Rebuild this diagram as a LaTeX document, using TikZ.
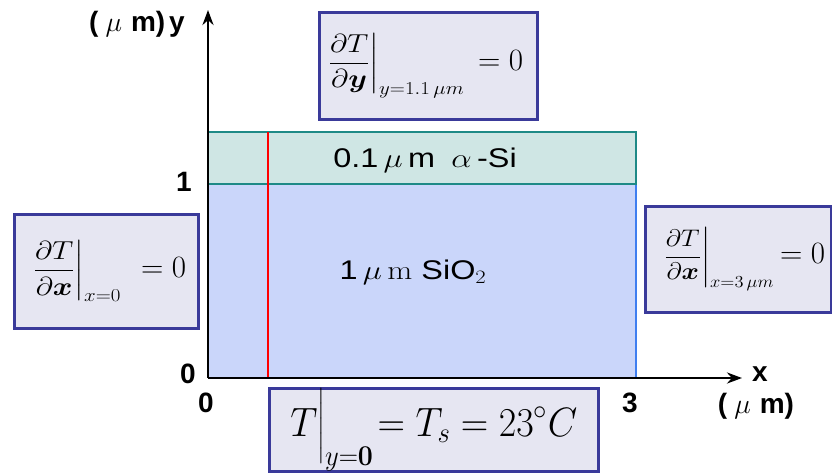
\documentclass[tikz,border=0pt]{standalone}
\usepackage{fix-cm}
\usepackage{amsmath}
\usepackage{graphicx}
\usepackage[no-math]{fontspec}
\setmainfont{Liberation Sans}
\usetikzlibrary{arrows.meta}
\definecolor{boxfill}{HTML}{E6E6F2}
\definecolor{boxdraw}{HTML}{3A3A9A}
\definecolor{sifill}{HTML}{CFE6E4}
\definecolor{sidraw}{HTML}{1E8A86}
\definecolor{oxfill}{HTML}{CAD6FA}
\definecolor{oxdraw}{HTML}{3F7FF0}
\newcommand{\eqzero}{{\fontsize{31}{34}\selectfont$=0$}}
\newcommand{\umlab}{(\hspace{7pt}{\mdseries$\mu$}\hspace{9pt}m)}
\begin{document}
\begin{tikzpicture}[x=1pt,y=-1pt,
  axislab/.style={font=\fontsize{28}{32}\selectfont\bfseries, inner sep=0pt},
  layerlab/.style={font=\fontsize{27}{32}\selectfont, inner sep=0pt},
  bcbox/.style={draw=boxdraw, fill=boxfill, line width=2.5pt, inner sep=0pt, anchor=north west,
    font=\fontsize{26}{30}\selectfont},
  axis/.style={line width=2.6pt, -{Stealth[length=15pt,width=11pt]}}
]
\useasboundingbox (0,0) rectangle (832,472);
% layers
\fill[oxfill] (208,184) rectangle (636,378);
\draw[oxdraw, line width=2pt] (636,184) -- (636,378);
\filldraw[fill=sifill, draw=sidraw, line width=2.5pt] (208,132) rectangle (636,184);
\coordinate (rtop) at (268,132);
\coordinate (rbot) at (268,378);
\draw[red, line width=2.5pt] (rtop) -- (rbot);
% axes
\coordinate (O) at (208,378);
\coordinate (ytip) at (208,10);
\coordinate (xtip) at (742,378);
\draw[axis] (O) -- (ytip);
\draw[axis] (O) -- (xtip);
% axis labels
\node[axislab, anchor=east] (ylab) at (185,24) {\umlab\hspace{4pt}y};
\node[axislab] (one) at (184,182) {1};
\node[axislab] (zeroy) at (188,374) {0};
\node[axislab] (zerox) at (206,403) {0};
\node[axislab] (three) at (630,403) {3};
\node[axislab] (xlab) at (760,374) {x};
\node[axislab] (xunit) at (756,406) {\umlab};
% layer labels
\node[layerlab] (si) at (425,160) {\scalebox{1.2}[1]{0.1\,$\mu$\,m\enspace$\alpha$\,-Si}};
\node[layerlab] (ox) at (413,272) {\scalebox{1.2}[1]{1\,$\mu\,\mathrm{m}$ SiO$_2$}};
% boundary condition boxes
\node[bcbox, minimum width=218pt, minimum height=107pt] (top) at (318,11)
  {\makebox[218pt]{\hspace{8pt}\scalebox{1.15}[1]{$\displaystyle\left.\frac{\partial T}{\partial\boldsymbol{y}}\right|_{y=1.1\,\mu m}$}\hfill\eqzero\hspace{14pt}}};
\node[bcbox, minimum width=184pt, minimum height=114pt] (left) at (13,213)
  {\makebox[184pt]{\hspace{18pt}\scalebox{1.15}[1]{$\displaystyle\left.\frac{\partial T}{\partial\boldsymbol{x}}\right|_{x=0}$}\hfill\eqzero\hspace{12pt}}};
\node[bcbox, minimum width=186pt, minimum height=106pt, font=\fontsize{24}{28}\selectfont] (right) at (644,205)
  {\makebox[186pt]{\hspace{18pt}\scalebox{1.1}[1]{$\displaystyle\left.\frac{\partial T}{\partial\boldsymbol{x}}\right|_{x=3\,\mu m}$}\hfill\eqzero\hspace{6pt}}};
\node[bcbox, minimum width=329pt, minimum height=83pt, font=\fontsize{41}{44}\selectfont] (bottom) at (268,387)
  {\makebox[329pt]{\scalebox{0.93}[1]{$\displaystyle T\Big|_{y=\mathbf{0}}\!=T_s=23^{\circ}C$}}};
\end{tikzpicture}
\end{document}
